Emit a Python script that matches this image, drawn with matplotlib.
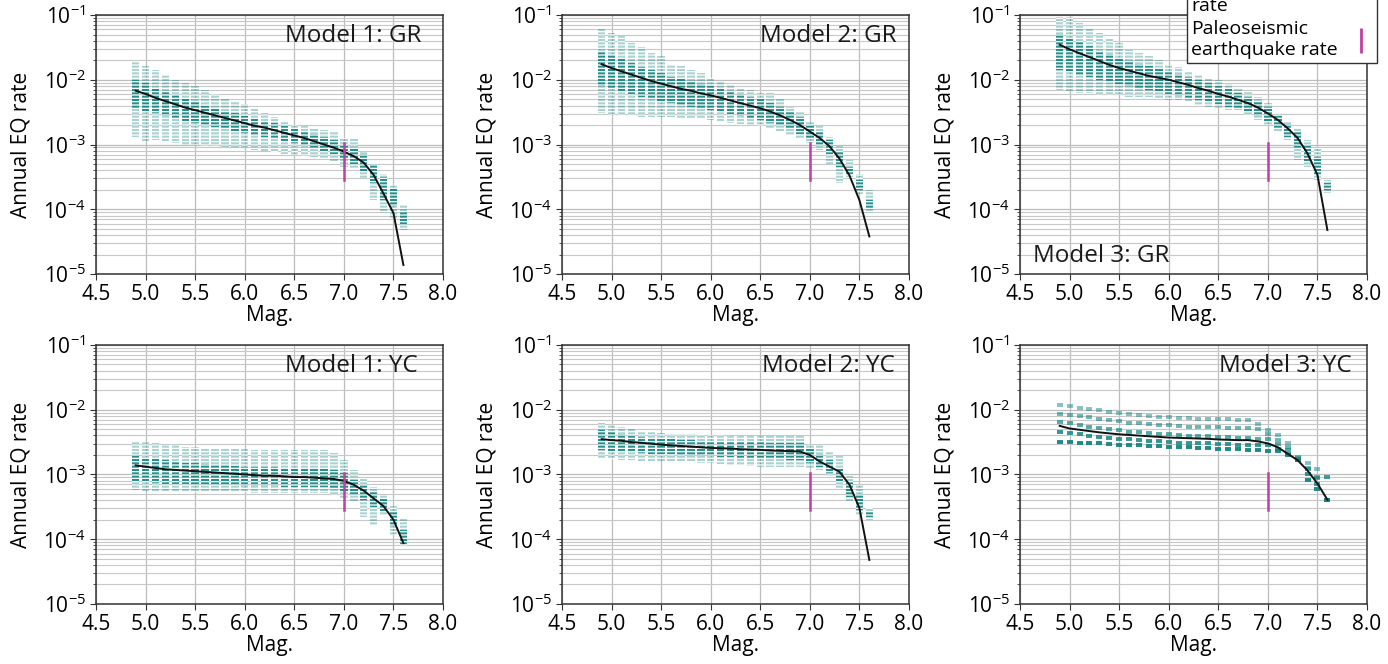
import numpy as np
import matplotlib
matplotlib.use("Agg")
import matplotlib.pyplot as plt
from matplotlib.lines import Line2D

plt.rcParams["font.family"] = ["Open Sans", "DejaVu Sans"]
plt.rcParams["hatch.linewidth"] = 0.9

# magnitude bins shared by every panel
mags = [4.9, 5.0, 5.1, 5.2, 5.3, 5.4, 5.5, 5.6, 5.7, 5.8, 5.9, 6.0, 6.1, 6.2,
        6.3, 6.4, 6.5, 6.6, 6.7, 6.8, 6.9, 7.0, 7.1, 7.2, 7.3, 7.4, 7.5, 7.6]

# all rates below are log10(annual rate)
# ---- Model 1: GR ----
gr1_mean = [-2.17, -2.22, -2.28, -2.33, -2.38, -2.43, -2.47, -2.51, -2.55, -2.59, -2.63, -2.67, -2.71, -2.74,
            -2.78, -2.82, -2.86, -2.90, -2.95, -3.00, -3.05, -3.11, -3.18, -3.28, -3.47, -3.76, -4.06, -4.86]
gr1_hi = [-1.72, -1.78, -1.85, -1.93, -2.00, -2.05, -2.10, -2.16, -2.22, -2.28, -2.33, -2.38, -2.45, -2.52,
          -2.58, -2.63, -2.70, -2.72, -2.75, -2.78, -2.80, -2.90, -2.92, -3.12, -3.32, -3.45, -3.62, -3.93]
gr1_lo = [-2.88, -2.95, -2.93, -2.95, -2.97, -3.00, -3.00, -3.02, -3.03, -3.04, -3.05, -3.06, -3.08, -3.10,
          -3.12, -3.14, -3.16, -3.18, -3.20, -3.22, -3.26, -3.34, -3.36, -3.52, -3.86, -4.06, -4.14, -4.32]
gr1_core_hi = [-2.00, -2.05, -2.12, -2.18, -2.24, -2.30, -2.35, -2.40, -2.44, -2.48, -2.52, -2.56, -2.60, -2.63,
               -2.67, -2.71, -2.75, -2.79, -2.84, -2.88, -2.93, -3.00, -3.06, -3.15, -3.30, -3.50, -3.68, -4.02]
gr1_core_lo = [-2.45, -2.48, -2.52, -2.56, -2.60, -2.64, -2.67, -2.70, -2.73, -2.76, -2.79, -2.82, -2.85, -2.88,
               -2.91, -2.94, -2.97, -3.01, -3.05, -3.10, -3.15, -3.22, -3.30, -3.42, -3.60, -3.85, -3.95, -4.25]

# ---- Model 2: GR ----
gr2_mean = [-1.76, -1.82, -1.87, -1.92, -1.97, -2.02, -2.06, -2.10, -2.14, -2.17, -2.21, -2.24, -2.28, -2.32,
            -2.36, -2.40, -2.44, -2.49, -2.55, -2.62, -2.70, -2.80, -2.90, -3.03, -3.22, -3.48, -3.86, -4.42]
gr2_hi = [-1.21, -1.28, -1.33, -1.43, -1.49, -1.59, -1.64, -1.77, -1.79, -1.85, -1.90, -1.98, -2.04, -2.08,
          -2.12, -2.16, -2.20, -2.21, -2.29, -2.42, -2.49, -2.65, -2.72, -2.88, -3.03, -3.24, -3.45, -3.70]
gr2_lo = [-2.52, -2.54, -2.54, -2.55, -2.57, -2.57, -2.58, -2.58, -2.59, -2.60, -2.61, -2.62, -2.64, -2.67,
          -2.69, -2.70, -2.72, -2.75, -2.80, -2.85, -2.90, -2.98, -3.08, -3.30, -3.60, -3.50, -3.76, -4.06]
gr2_core_hi = [-1.55, -1.62, -1.68, -1.74, -1.80, -1.85, -1.90, -1.95, -1.99, -2.03, -2.07, -2.10, -2.14, -2.18,
               -2.22, -2.26, -2.30, -2.36, -2.42, -2.50, -2.58, -2.70, -2.80, -2.93, -3.10, -3.35, -3.55, -3.85]
gr2_core_lo = [-2.10, -2.15, -2.18, -2.22, -2.26, -2.30, -2.33, -2.36, -2.39, -2.42, -2.45, -2.47, -2.50, -2.53,
               -2.56, -2.59, -2.62, -2.66, -2.70, -2.76, -2.83, -2.92, -3.00, -3.15, -3.35, -3.45, -3.70, -4.00]

# ---- Model 3: GR ----
gr3_mean = [-1.46, -1.53, -1.59, -1.65, -1.71, -1.77, -1.82, -1.86, -1.90, -1.94, -1.97, -2.00, -2.04, -2.08,
            -2.13, -2.17, -2.22, -2.26, -2.31, -2.36, -2.43, -2.52, -2.62, -2.75, -2.90, -3.14, -3.47, -4.32]
gr3_hi = [-1.03, -1.03, -1.13, -1.21, -1.28, -1.36, -1.44, -1.54, -1.59, -1.64, -1.69, -1.77, -1.80, -1.88,
          -1.93, -1.98, -2.00, -2.06, -2.13, -2.18, -2.26, -2.36, -2.54, -2.65, -2.75, -2.93, -3.06, -3.55]
gr3_lo = [-2.16, -2.18, -2.21, -2.21, -2.24, -2.24, -2.24, -2.26, -2.26, -2.27, -2.29, -2.31, -2.31, -2.34,
          -2.39, -2.42, -2.44, -2.47, -2.47, -2.54, -2.62, -2.70, -2.80, -2.93, -3.24, -3.34, -3.55, -3.75]
gr3_core_hi = [-1.30, -1.35, -1.42, -1.48, -1.55, -1.60, -1.66, -1.71, -1.75, -1.79, -1.83, -1.87, -1.91, -1.95,
               -2.00, -2.05, -2.10, -2.15, -2.20, -2.26, -2.33, -2.42, -2.56, -2.68, -2.80, -3.00, -3.20, -3.60]
gr3_core_lo = [-1.85, -1.88, -1.92, -1.96, -2.00, -2.04, -2.07, -2.10, -2.13, -2.16, -2.19, -2.22, -2.25, -2.28,
               -2.32, -2.35, -2.38, -2.42, -2.45, -2.50, -2.56, -2.64, -2.74, -2.88, -3.05, -3.25, -3.45, -3.70]

# ---- Model 1: YC ----
yc1_mean = [-2.86, -2.88, -2.90, -2.92, -2.93, -2.94, -2.95, -2.96, -2.97, -2.98, -2.99, -3.00, -3.01, -3.02,
            -3.02, -3.03, -3.04, -3.04, -3.05, -3.06, -3.07, -3.10, -3.16, -3.25, -3.37, -3.49, -3.70, -4.06]
yc1_hi = [-2.48, -2.50, -2.52, -2.54, -2.55, -2.57, -2.58, -2.59, -2.60, -2.60, -2.61, -2.61, -2.62, -2.62,
          -2.62, -2.62, -2.62, -2.62, -2.62, -2.62, -2.67, -2.77, -2.93, -3.06, -3.19, -3.31, -3.49, -3.67]
yc1_lo = [-3.24, -3.26, -3.26, -3.27, -3.27, -3.27, -3.27, -3.27, -3.27, -3.27, -3.27, -3.27, -3.28, -3.28,
          -3.28, -3.28, -3.28, -3.28, -3.29, -3.29, -3.31, -3.37, -3.42, -3.65, -3.78, -3.62, -3.93, -4.11]
yc1_core_hi = [-2.70, -2.74, -2.76, -2.78, -2.80, -2.82, -2.83, -2.84, -2.85, -2.86, -2.87, -2.88, -2.88, -2.89,
               -2.89, -2.90, -2.90, -2.91, -2.91, -2.92, -2.93, -2.98, -3.08, -3.17, -3.26, -3.38, -3.58, -3.85]
yc1_core_lo = [-3.10, -3.12, -3.13, -3.14, -3.15, -3.15, -3.16, -3.16, -3.17, -3.17, -3.17, -3.18, -3.18, -3.18,
               -3.18, -3.19, -3.19, -3.19, -3.19, -3.20, -3.21, -3.25, -3.32, -3.40, -3.50, -3.58, -3.80, -4.08]

# ---- Model 2: YC ----
yc2_mean = [-2.455, -2.47, -2.48, -2.50, -2.51, -2.525, -2.54, -2.55, -2.56, -2.57, -2.58, -2.59, -2.595, -2.60,
            -2.61, -2.615, -2.62, -2.63, -2.635, -2.64, -2.645, -2.70, -2.80, -2.88, -2.96, -3.16, -3.52, -4.32]
yc2_hi = [-2.21, -2.23, -2.27, -2.30, -2.34, -2.35, -2.36, -2.37, -2.38, -2.38, -2.39, -2.39, -2.39, -2.40,
          -2.40, -2.40, -2.40, -2.40, -2.41, -2.41, -2.41, -2.54, -2.55, -2.65, -2.72, -3.03, -3.16, -3.52]
yc2_lo = [-2.75, -2.76, -2.78, -2.78, -2.79, -2.79, -2.79, -2.80, -2.80, -2.81, -2.82, -2.83, -2.84, -2.85,
          -2.86, -2.87, -2.88, -2.88, -2.88, -2.89, -2.89, -2.90, -2.93, -3.03, -3.21, -3.42, -3.62, -3.70]
yc2_core_hi = [-2.32, -2.35, -2.38, -2.40, -2.42, -2.44, -2.45, -2.46, -2.47, -2.47, -2.48, -2.48, -2.49, -2.49,
               -2.50, -2.50, -2.50, -2.51, -2.51, -2.51, -2.52, -2.60, -2.68, -2.78, -2.90, -3.10, -3.30, -3.58]
yc2_core_lo = [-2.62, -2.64, -2.65, -2.66, -2.67, -2.68, -2.68, -2.69, -2.70, -2.71, -2.71, -2.72, -2.73, -2.73,
               -2.74, -2.75, -2.75, -2.76, -2.76, -2.77, -2.78, -2.82, -2.88, -2.98, -3.12, -3.35, -3.55, -3.66]

# ---- Model 3: YC (few distinct branches) ----
yc3_mean = [-2.25, -2.29, -2.31, -2.33, -2.35, -2.365, -2.38, -2.39, -2.40, -2.41, -2.42, -2.43, -2.435, -2.44,
            -2.445, -2.45, -2.46, -2.465, -2.47, -2.47, -2.49, -2.52, -2.58, -2.68, -2.78, -2.94, -3.14, -3.39]
yc3_branch_a = [-1.93, -1.95, -1.97, -1.99, -2.01, -2.03, -2.05, -2.07, -2.08, -2.10, -2.11, -2.12, -2.13, -2.13,
                -2.14, -2.14, -2.15, -2.15, -2.16, -2.16, -2.22, -2.31, -2.39, -2.52, -2.73, -2.82, -2.91, -3.04]
yc3_branch_b = [-2.06, -2.08, -2.10, -2.12, -2.14, -2.16, -2.18, -2.20, -2.21, -2.22, -2.23, -2.24, -2.25, -2.26,
                -2.26, -2.27, -2.27, -2.28, -2.28, -2.29, -2.30, -2.38, -2.47, -2.58, -2.75, -2.90, -3.04, -3.04]
yc3_branch_c = [-2.19, -2.21, -2.24, -2.26, -2.28, -2.30, -2.32, -2.34, -2.35, -2.36, -2.37, -2.38, -2.39, -2.40,
                -2.40, -2.41, -2.42, -2.42, -2.43, -2.44, -2.45, -2.46, -2.53, -2.62, -2.76, -2.92, -3.05, -3.39]
yc3_branch_d = [-2.34, -2.36, -2.38, -2.40, -2.42, -2.44, -2.45, -2.46, -2.47, -2.48, -2.49, -2.50, -2.51, -2.51,
                -2.52, -2.52, -2.53, -2.53, -2.54, -2.54, -2.55, -2.55, -2.60, -2.68, -2.78, -3.00, -3.14, -3.39]
yc3_branch_e = [-2.50, -2.50, -2.51, -2.52, -2.52, -2.53, -2.54, -2.54, -2.55, -2.56, -2.56, -2.57, -2.58, -2.58,
                -2.59, -2.59, -2.60, -2.60, -2.61, -2.62, -2.62, -2.64, -2.64, -2.70, -2.78, -3.09, -3.22, -3.39]

# paleoseismic rate range at M7
paleo_mag = 7.0
paleo_lo, paleo_hi = 2.8e-4, 1.05e-3

titles = ["Model 1: GR", "Model 2: GR", "Model 3: GR", "Model 1: YC", "Model 2: YC", "Model 3: YC"]
x_ticks = [4.5, 5.0, 5.5, 6.0, 6.5, 7.0, 7.5, 8.0]
legend_labels = ["Mean annual\nrate", "Paleoseismic\nearthquake rate"]

TEAL = (0.07, 0.52, 0.50)
panels = [
    (gr1_mean, gr1_lo, gr1_hi, gr1_core_lo, gr1_core_hi),
    (gr2_mean, gr2_lo, gr2_hi, gr2_core_lo, gr2_core_hi),
    (gr3_mean, gr3_lo, gr3_hi, gr3_core_lo, gr3_core_hi),
    (yc1_mean, yc1_lo, yc1_hi, yc1_core_lo, yc1_core_hi),
    (yc2_mean, yc2_lo, yc2_hi, yc2_core_lo, yc2_core_hi),
    None,
]
yc3_branches = [yc3_branch_a, yc3_branch_b, yc3_branch_c, yc3_branch_d, yc3_branch_e]
yc3_alpha = [0.5, 0.6, 0.7, 0.85, 0.95]

# (x, ha, y, va) of each panel's title in axes fraction
title_pos = [
    (0.937, "right", 0.965, "top"),
    (0.965, "right", 0.965, "top"),
    (0.037, "left", 0.045, "baseline"),
    (0.928, "right", 0.965, "top"),
    (0.960, "right", 0.965, "top"),
    (0.957, "right", 0.965, "top"),
]

fig = plt.figure(figsize=(13.88, 6.64), dpi=100)
col_left = [0.0692, 0.4049, 0.7349]
row_bottom = [0.5873, 0.0904]
W, H = 0.2500, 0.3901

m = np.array(mags)
for i in range(6):
    ax = fig.add_axes([col_left[i % 3], row_bottom[i // 3], W, H])
    ax.set_yscale("log")
    ax.set_axisbelow(True)

    if panels[i] is not None:
        mean, lo, hi, clo, chi = [10 ** np.array(v) for v in panels[i]]
        # faint spread of all logic-tree branches
        ax.bar(m, hi - lo, bottom=lo, width=0.075, facecolor=TEAL + (0.36,),
               edgecolor="white", linewidth=0, hatch="-----")
        # dense central part
        ax.bar(m, chi - clo, bottom=clo, width=0.075, facecolor=TEAL + (0.85,),
               edgecolor="white", linewidth=0, hatch="-----")
    else:
        mean = 10 ** np.array(yc3_mean)
        for br, a in zip(yc3_branches, yc3_alpha):
            ax.plot(m, 10 ** np.array(br), linestyle="none", marker="_", markersize=5,
                    markeredgewidth=2.8, color=TEAL, alpha=a)

    ax.plot(m, mean, color="#111111", linewidth=1.4, zorder=5)
    ax.plot([paleo_mag, paleo_mag], [paleo_lo, paleo_hi], color="#c23fa0", linewidth=1.8, zorder=6)

    ax.set_xlim(4.5, 8.0)
    ax.set_ylim(1e-5, 1e-1)
    ax.set_xticks(x_ticks)
    ax.set_xticklabels([f"{t:.1f}" for t in x_ticks])
    ax.grid(True, which="major", color="#bdbdbd", linewidth=0.9)
    ax.grid(True, which="minor", axis="y", color="#c8c8c8", linewidth=0.8)
    ax.tick_params(which="major", labelsize=15, length=4, color="#333333")
    ax.tick_params(which="minor", length=2, color="#333333")
    for s in ax.spines.values():
        s.set_color("#333333")
        s.set_linewidth(1.1)

    ax.set_xlabel("Mag.", fontsize=15, labelpad=0)
    ax.set_ylabel("Annual EQ rate", fontsize=15, labelpad=8)

    tx, ha, ty, va = title_pos[i]
    ax.text(tx, ty, titles[i], transform=ax.transAxes, ha=ha, va=va, fontsize=17.5, color="#1a1a1a")

handles = [
    Line2D([], [], color="#111111", linewidth=1.4),
    Line2D([], [], color="#c23fa0", linestyle="none", marker="|", markersize=18, markeredgewidth=2),
]
leg = fig.legend(handles, legend_labels, loc="lower right",
                 bbox_to_anchor=(0.992, 0.905), borderaxespad=0, markerfirst=False, fontsize=14,
                 fancybox=False, edgecolor="#333333", framealpha=1, handlelength=1.2,
                 labelspacing=0.3, borderpad=0.2, handletextpad=0.6)

# keep labels left-aligned with handles on the right: widen the gap in the shorter row
fig.canvas.draw()
renderer = fig.canvas.get_renderer()
widths = [t.get_window_extent(renderer).width for t in leg.get_texts()]
rows = leg._legend_handle_box.get_children()[0].get_children()
for row, w in zip(rows, widths):
    row.sep += (max(widths) - w) * 72 / fig.dpi

fig.savefig("out.png", dpi=100)
